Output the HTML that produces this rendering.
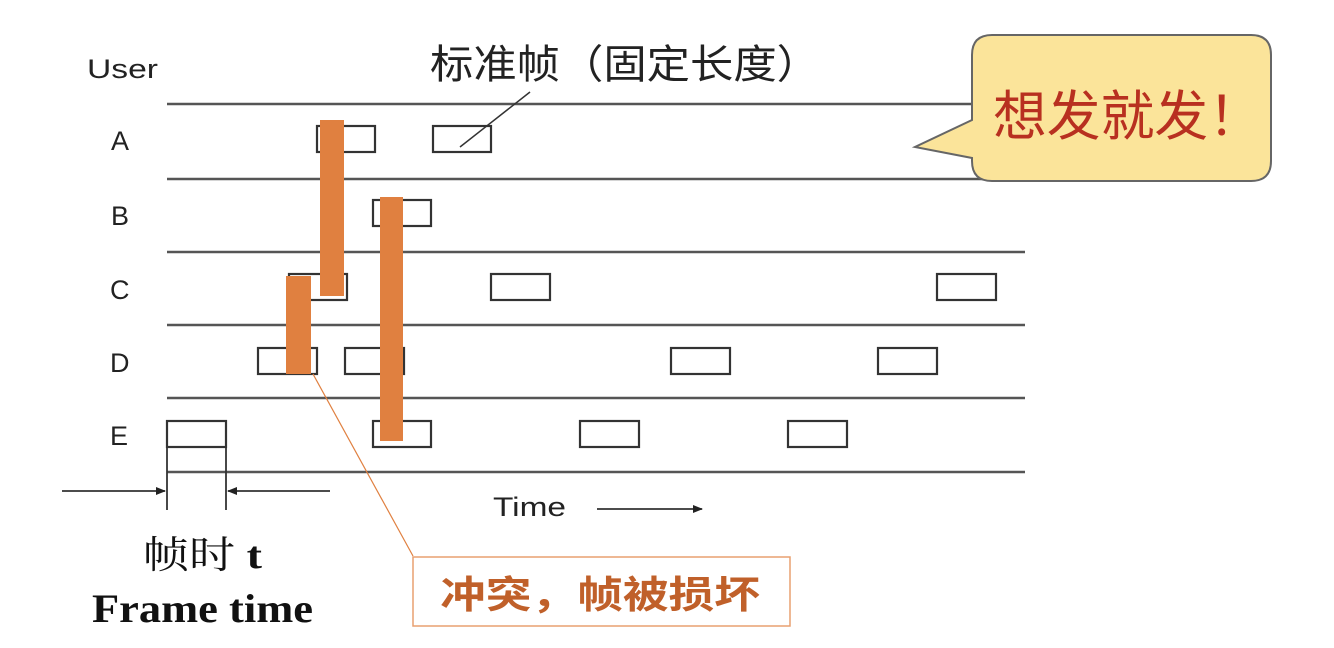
<!DOCTYPE html>
<html><head><meta charset="utf-8"><style>
html,body{margin:0;padding:0;background:#fff;}
svg{display:block;}
</style></head><body>
<svg width="1334" height="648" viewBox="0 0 1334 648" xmlns="http://www.w3.org/2000/svg">
<defs>
<marker id="ah" markerWidth="10" markerHeight="8" refX="9" refY="4" orient="auto" markerUnits="userSpaceOnUse">
<path d="M0,0 L10,4 L0,8 Z" fill="#222"/></marker>
</defs>
<g stroke="#555" stroke-width="2.5">
<line x1="167" y1="104" x2="1025" y2="104"/>
<line x1="167" y1="179" x2="1025" y2="179"/>
<line x1="167" y1="252" x2="1025" y2="252"/>
<line x1="167" y1="325" x2="1025" y2="325"/>
<line x1="167" y1="398" x2="1025" y2="398"/>
<line x1="167" y1="472" x2="1025" y2="472"/>
</g>
<g font-family="Liberation Sans, sans-serif" font-size="27" fill="#222">
<text x="87" y="78" textLength="71" lengthAdjust="spacingAndGlyphs">User</text>
<text x="111" y="150">A</text>
<text x="111" y="225">B</text>
<text x="110" y="299">C</text>
<text x="110" y="372">D</text>
<text x="110" y="445">E</text>
<text x="493" y="516" textLength="73" lengthAdjust="spacingAndGlyphs">Time</text>
</g>
<g fill="none" stroke="#333" stroke-width="2.2">
<rect x="317" y="126" width="58" height="26"/>
<rect x="433" y="126" width="58" height="26"/>
<rect x="373" y="200" width="58" height="26"/>
<rect x="289" y="274" width="58" height="26"/>
<rect x="491" y="274" width="59" height="26"/>
<rect x="937" y="274" width="59" height="26"/>
<rect x="258" y="348" width="59" height="26"/>
<rect x="345" y="348" width="59" height="26"/>
<rect x="671" y="348" width="59" height="26"/>
<rect x="878" y="348" width="59" height="26"/>
<rect x="167" y="421" width="59" height="26"/>
<rect x="373" y="421" width="58" height="26"/>
<rect x="580" y="421" width="59" height="26"/>
<rect x="788" y="421" width="59" height="26"/>
</g>
<line x1="460" y1="147" x2="530" y2="92" stroke="#333" stroke-width="1.5"/>
<g fill="#e08040">
<rect x="320" y="120" width="24" height="176"/>
<rect x="380" y="197" width="23" height="244"/>
<rect x="286" y="276" width="25" height="98"/>
</g>
<line x1="313" y1="374" x2="413" y2="556" stroke="#e08040" stroke-width="1.2"/>
<rect x="413" y="557" width="377" height="69" fill="#fff" stroke="#e8a070" stroke-width="1.5"/>
<text x="440" y="608" textLength="320" lengthAdjust="spacingAndGlyphs" font-family="Liberation Sans, 'Noto Sans CJK SC', sans-serif" font-size="38" font-weight="bold" fill="#c0602a">冲突，帧被损坏</text>
<g stroke="#333" stroke-width="1.8">
<line x1="167" y1="447" x2="167" y2="510"/>
<line x1="226" y1="447" x2="226" y2="510"/>
<line x1="62" y1="491" x2="165" y2="491" marker-end="url(#ah)"/>
<line x1="330" y1="491" x2="228" y2="491" marker-end="url(#ah)"/>
<line x1="597" y1="509" x2="702" y2="509" marker-end="url(#ah)"/>
</g>
<text x="430" y="78" textLength="390" lengthAdjust="spacingAndGlyphs" font-family="Liberation Sans, 'Noto Sans CJK SC', sans-serif" font-size="40" fill="#222">标准帧（固定长度）</text>
<text x="143" y="568" textLength="119" lengthAdjust="spacingAndGlyphs" font-family="Liberation Serif, 'Noto Serif CJK SC', serif" font-size="38" fill="#111">帧时 <tspan font-weight="bold">t</tspan></text>
<text x="92" y="622" textLength="221" lengthAdjust="spacingAndGlyphs" font-family="Liberation Serif, serif" font-size="40" font-weight="bold" fill="#111">Frame time</text>
<path d="M992,35 H1251 Q1271,35 1271,55 V161 Q1271,181 1251,181 H992 Q972,181 972,161 V158 L915,147 L972,120 V55 Q972,35 992,35 Z" fill="#fbe49a" stroke="#666" stroke-width="2"/>
<text x="993" y="135" textLength="269" lengthAdjust="spacingAndGlyphs" font-family="Liberation Sans, 'Noto Sans CJK SC', sans-serif" font-size="54" fill="#b83020">想发就发！</text>
</svg>
</body></html>
